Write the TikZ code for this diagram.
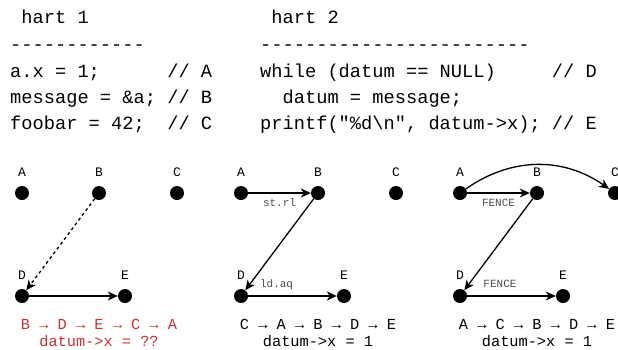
\documentclass[tikz,border=0pt]{standalone}
\usepackage{fontspec}
\setmonofont{Liberation Mono}
\usetikzlibrary{arrows.meta}
\definecolor{seqred}{RGB}{200,50,50}

\begin{document}
\begin{tikzpicture}[x=1pt,y=-1pt,
    code/.style={anchor=base west,inner sep=0pt,font=\ttfamily\fontsize{18.7}{22}\selectfont},
    dot/.style={circle,fill=black,inner sep=0pt,minimum size=14pt},
    lbl/.style={inner sep=0pt,font=\ttfamily\fontsize{13}{15}\selectfont},
    elbl/.style={inner sep=0pt,text=black!70,text height=7pt,text depth=2pt,font=\ttfamily\fontsize{11}{13}\selectfont},
    seq/.style={inner sep=0pt,font=\ttfamily\fontsize{15.3}{17}\selectfont},
    edge/.style={line width=1.3pt,-{Stealth[length=10pt,width=9pt,inset=3pt]}}]
    \useasboundingbox (0,0) rectangle (618,349);
    % code of the two harts
    \node[code] (h1) at (10,23) {~hart~1};
    \node[code] (h1rule) at (10,50) {------------};
    \node[code] (lineA) at (10,77) {a.x~=~1;~~~~~~//~A};
    \node[code] (lineB) at (10,103) {message~=~\&a;~//~B};
    \node[code] (lineC) at (10,129) {foobar~=~42;~~//~C};
    \node[code] (h2) at (260,23) {~hart~2};
    \node[code] (h2rule) at (260,50) {------------------------};
    \node[code] (lineD) at (260,77) {while~(datum~==~NULL)~~~~~//~D};
    \node[code] (lineW) at (260,103) {~~datum~=~message;};
    \node[code] (lineE) at (260,129) {printf("\%d\textbackslash n",~datum->x);~//~E};
    % the three orders, one panel each
    \foreach \p/\dx in {1/0,2/219,3/438}{% panel number and shift
      \foreach \n/\x/\y in {A/22/193,B/99/193,C/177/193,D/22/296,E/125/296}{
        \node[dot,label={[lbl,label distance=9pt]above:\n}] (\n\p) at (\x+\dx,\y) {};}}
    \draw [edge,dashed] (B1) -- (D1);
    \draw [edge] (D1) -- (E1);
    \node[seq,text=seqred] (order1) at (99,324) {B → D → E → C → A};
    \node[seq,text=seqred] (value1) at (99,341) {datum->x = ??};
    \draw [edge] (A2) -- node[elbl,below=6pt] {st.rl} (B2);
    \draw [edge] (B2) -- (D2);
    \draw [edge] (D2) -- node[elbl,above=6pt,pos=0.32] {ld.aq} (E2);
    \node[seq] (order2) at (318,324) {C → A → B → D → E};
    \node[seq] (value2) at (318,341) {datum->x = 1};
    \draw [edge] (A3) to[bend left=35] (C3);
    \draw [edge] (A3) -- node[elbl,below=6pt] {FENCE} (B3);
    \draw [edge] (B3) -- (D3);
    \draw [edge] (D3) -- node[elbl,above=6pt,pos=0.37] {FENCE} (E3);
    \node[seq] (order3) at (537,324) {A → C → B → D → E};
    \node[seq] (value3) at (537,341) {datum->x = 1};
\end{tikzpicture}
\end{document}
